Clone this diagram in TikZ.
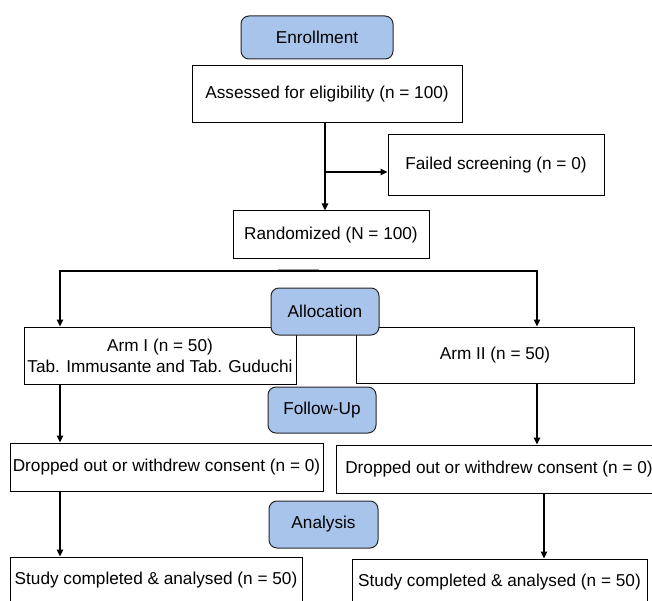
\documentclass[tikz,border=0pt]{standalone}
\usepackage{fontspec}
\setmainfont{Liberation Sans}
\usetikzlibrary{arrows.meta}
\definecolor{phase}{HTML}{A9C4EB}
\begin{document}
\begin{tikzpicture}[x=1pt,y=-1pt,
  font=\fontsize{17.2}{21}\selectfont,
  box/.style={draw=black, line width=1pt, inner sep=0pt, align=center, fill=white},
  phasebox/.style={box, fill=phase, draw=black!85, rounded corners=8pt},
  arr/.style={-{Triangle[length=7pt,width=6.5pt]}, line width=1.2pt},
  darr/.style={{Triangle[length=7pt,width=6.5pt]}-{Triangle[length=7pt,width=6.5pt]}, line width=1.2pt}]
\useasboundingbox (0,0) rectangle (652,601);
\clip (0,0) rectangle (652,601);

% nodes
\node[phasebox, minimum width=152pt, minimum height=43pt] (enroll) at (317,37.5) {Enrollment};
\node[box, minimum width=270pt, minimum height=57pt] (assess) at (327,94.5) {Assessed for eligibility (n = 100)};
\node[box, minimum width=216pt, minimum height=61pt] (fail) at (496,165.5) {Failed screening (n = 0)};
\node[box, minimum width=196pt, minimum height=48pt] (rand) at (331,235) {Randomized (N = 100)};
\node[box, minimum width=272pt, minimum height=57pt] (arm1) at (160,355.5) {Arm I (n = 50)\\Tab. Immusante and Tab. Guduchi};
\node[box, minimum width=278pt, minimum height=56pt] (arm2) at (495,355) {Arm II (n = 50)};
\node[phasebox, minimum width=108pt, minimum height=47pt] (alloc) at (325,311.5) {Allocation};
\node[phasebox, minimum width=108pt, minimum height=46pt] (follow) at (322,410) {Follow-Up};
\node[box, minimum width=313pt, minimum height=48pt] (dropl) at (166.5,467) {Dropped out or withdrew consent (n = 0)};
\node[box, minimum width=326pt, minimum height=48pt] (dropr) at (499,469) {Dropped out or withdrew consent (n = 0)};
\node[phasebox, minimum width=109pt, minimum height=47pt] (analysis) at (323.5,524.5) {Analysis};
\node[box, minimum width=292pt, minimum height=46pt] (studyl) at (156,580) {Study completed \& analysed (n = 50)};
\node[box, minimum width=295pt, minimum height=46pt] (studyr) at (499.5,582) {Study completed \& analysed (n = 50)};

% helper coordinates
\coordinate (a1) at ([xshift=-2pt]assess.south);
\coordinate (f1) at ([yshift=-6.5pt]fail.west);
\coordinate (hl) at (60,271);
\coordinate (hr) at (537,271);
\coordinate (r2) at (544,500);

% faint stub
\draw[black!40, line width=2.5pt] (278,270) -- (319,270);

% connectors
\draw[arr] (a1) -- (a1 |- rand.north);
\draw[arr] (a1 |- f1) -- (f1);
\draw[darr] (hl |- arm1.north) -- (hl) -- (hr) -- (hr |- arm2.north);
\draw[arr] (arm1.south -| hl) -- (dropl.north -| hl);
\draw[arr] (arm2.south -| hr) -- (dropr.north -| hr);
\draw[arr] (dropl.south -| hl) -- (studyl.north -| hl);
\draw[arr] (dropr.south -| r2) -- (studyr.north -| r2);
\end{tikzpicture}
\end{document}
